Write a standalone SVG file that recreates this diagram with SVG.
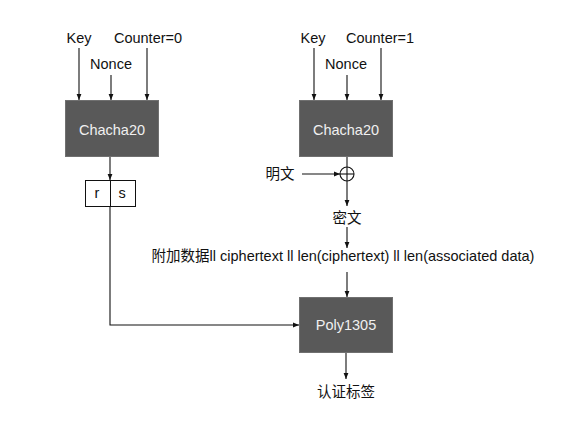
<svg xmlns="http://www.w3.org/2000/svg" width="583" height="428" viewBox="0 0 583 428">
<style>
.t{font-family:"Liberation Sans",Arial,sans-serif;font-size:14.5px;fill:#111}
.c{font-family:"Noto Sans CJK SC",sans-serif;font-size:14.5px;fill:#111}
.m{font-family:"Liberation Sans","Noto Sans CJK SC",sans-serif;font-size:14.5px;fill:#111}
.bt{font-family:"Liberation Sans",Arial,sans-serif;font-size:14.5px;fill:#f0f0f0}
.box{fill:#595959;stroke:#707070;stroke-width:1}
.ln{fill:none;stroke:#111;stroke-width:1.1}
</style>
<defs>
<marker id="ah" viewBox="0 0 10 10" refX="10" refY="5" markerWidth="6" markerHeight="6" markerUnits="userSpaceOnUse" orient="auto">
<path d="M0,1 L10,5 L0,9 z" fill="#111"/>
</marker>
</defs>
<rect width="583" height="428" fill="#fff"/>
<g id="connectors">
<line class="ln" x1="79" y1="48" x2="79" y2="100" marker-end="url(#ah)"/>
<line class="ln" x1="111" y1="75" x2="111" y2="100" marker-end="url(#ah)"/>
<line class="ln" x1="147" y1="48" x2="147" y2="100" marker-end="url(#ah)"/>
<line class="ln" x1="314" y1="48" x2="314" y2="100" marker-end="url(#ah)"/>
<line class="ln" x1="347" y1="75" x2="347" y2="100" marker-end="url(#ah)"/>
<line class="ln" x1="381" y1="48" x2="381" y2="100" marker-end="url(#ah)"/>
<line class="ln" x1="110" y1="157" x2="110" y2="180" marker-end="url(#ah)"/>
<polyline class="ln" points="110,207 110,325 299,325" marker-end="url(#ah)"/>
<line class="ln" x1="347" y1="157" x2="347" y2="167"/>
<line class="ln" x1="302" y1="174" x2="340" y2="174" marker-end="url(#ah)"/>
<line class="ln" x1="347" y1="181" x2="347" y2="206" marker-end="url(#ah)"/>
<line class="ln" x1="347" y1="227" x2="347" y2="248" marker-end="url(#ah)"/>
<line class="ln" x1="347" y1="272" x2="347" y2="297" marker-end="url(#ah)"/>
<line class="ln" x1="346" y1="353" x2="346" y2="379" marker-end="url(#ah)"/>
</g>
<g id="inputs-left">
<text class="t" x="79" y="43" text-anchor="middle">Key</text>
<text class="t" x="111" y="69" text-anchor="middle">Nonce</text>
<text class="t" x="148" y="43" text-anchor="middle">Counter=0</text>
</g>
<g id="inputs-right">
<text class="t" x="313" y="43" text-anchor="middle">Key</text>
<text class="t" x="346" y="69" text-anchor="middle">Nonce</text>
<text class="t" x="380" y="43" text-anchor="middle">Counter=1</text>
</g>
<g id="chacha20-left">
<rect class="box" x="65.5" y="100.5" width="93" height="56"/>
<text class="bt" x="112" y="135" text-anchor="middle">Chacha20</text>
</g>
<g id="chacha20-right">
<rect class="box" x="299.5" y="100.5" width="93" height="56"/>
<text class="bt" x="346" y="135" text-anchor="middle">Chacha20</text>
</g>
<g id="rs">
<rect x="85.5" y="180.5" width="50" height="26" fill="#fff" stroke="#111" stroke-width="1"/>
<line x1="110.5" y1="180.5" x2="110.5" y2="206.5" stroke="#111" stroke-width="1"/>
<text class="t" x="97" y="198" text-anchor="middle">r</text>
<text class="t" x="122" y="198" text-anchor="middle">s</text>
</g>
<g id="xor">
<circle cx="347" cy="174" r="7" fill="#fff" stroke="#111" stroke-width="1.1"/>
<line class="ln" x1="340" y1="174" x2="354" y2="174"/>
<line class="ln" x1="347" y1="167" x2="347" y2="181"/>
</g>
<g id="plaintext">
<text class="c" x="280" y="179" text-anchor="middle">明文</text>
</g>
<g id="ciphertext">
<text class="c" x="347" y="223" text-anchor="middle">密文</text>
</g>
<g id="mac-input">
<text class="m" x="343" y="261" text-anchor="middle">附加数据ll ciphertext ll len(ciphertext) ll len(associated data)</text>
</g>
<g id="poly1305">
<rect class="box" x="299.5" y="297.5" width="93" height="55"/>
<text class="bt" x="346" y="330" text-anchor="middle">Poly1305</text>
</g>
<g id="tag">
<text class="c" x="346" y="397" text-anchor="middle">认证标签</text>
</g>
</svg>
